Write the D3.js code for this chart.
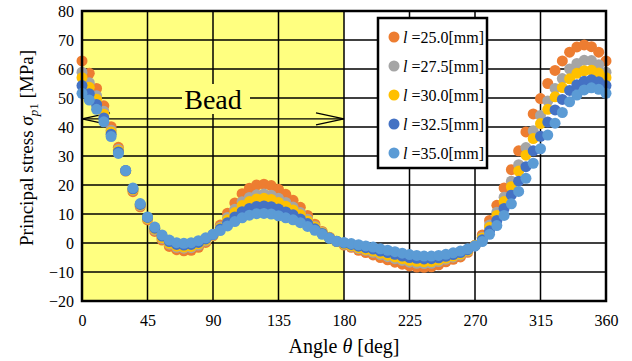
<!DOCTYPE html>
<html>
<head>
<meta charset="utf-8">
<script src="https://cdn.jsdelivr.net/npm/d3@7"></script>
<style>
  body { margin: 0; background: #fff; }
</style>
</head>
<body>
<svg id="chart" width="632" height="361"></svg>
<script>
// data, one value every 5 deg from 0 to 360
const angles = d3.range(0, 361, 5)
const labels = ['25.0', '27.5', '30.0', '32.5', '35.0']
const colors = ['#ED7D31', '#A5A5A5', '#FFC000', '#4472C4', '#5B9BD5']
const xTicks = [0, 45, 90, 135, 180, 225, 270, 315, 360]
const yTicks = [-20, -10, 0, 10, 20, 30, 40, 50, 60, 70, 80]

const l250 = [62.8, 58.5, 53.3, 47.3, 40.1, 33.0, 24.8, 17.7, 12.5, 8.0, 4.0, 1.0, -1.2, -2.3, -2.7, -2.5, -1.5, 0.2, 2.5,
  6.2, 10.3, 13.8, 17.0, 18.9, 20.0, 20.3, 19.8, 18.5, 16.8, 14.7, 12.3, 9.5, 6.5, 4.0, 2.0, 0.5, -0.7,
  -1.5, -2.5, -3.3, -4.1, -5.0, -5.8, -6.6, -7.3, -7.9, -8.3, -8.4, -8.2, -7.5, -6.5, -5.6, -4.8, -3.2, -0.8,
  2.8, 7.8, 13.0, 19.0, 25.3, 31.8, 38.3, 44.5, 49.8, 55.0, 59.5, 62.8, 65.8, 67.6, 68.3, 67.7, 65.8, 62.8]
const l275 = [58.9, 55.3, 50.8, 45.4, 38.9, 32.3, 24.9, 18.2, 12.9, 8.4, 4.5, 1.6, -0.4, -1.5, -1.8, -1.6, -0.7, 0.7, 2.7,
  5.5, 8.8, 11.6, 14.2, 15.7, 16.6, 16.9, 16.5, 15.4, 14.0, 12.4, 10.5, 8.2, 5.8, 3.7, 1.9, 0.5, -0.4,
  -1.1, -1.9, -2.5, -3.2, -4.0, -4.7, -5.4, -6.0, -6.6, -7.0, -7.1, -7.0, -6.4, -5.6, -4.9, -4.1, -2.8, -0.9,
  2.0, 6.2, 10.6, 15.8, 21.3, 27.0, 32.9, 38.7, 44.0, 49.0, 53.3, 56.7, 60.0, 61.9, 63.0, 62.9, 61.5, 58.9]
const l300 = [57.0, 53.7, 49.6, 44.4, 38.3, 31.9, 24.9, 18.4, 13.1, 8.5, 4.8, 1.9, -0.1, -1.1, -1.4, -1.2, -0.3, 1.0, 2.8,
  5.2, 8.0, 10.5, 12.9, 14.3, 15.2, 15.4, 15.0, 14.0, 12.7, 11.4, 9.7, 7.6, 5.5, 3.5, 1.8, 0.5, -0.3,
  -0.9, -1.6, -2.2, -2.8, -3.5, -4.2, -4.8, -5.4, -6.0, -6.3, -6.5, -6.4, -5.9, -5.2, -4.5, -3.8, -2.6, -0.9,
  1.7, 5.4, 9.5, 14.3, 19.4, 24.8, 30.3, 36.0, 41.2, 46.1, 50.4, 53.6, 56.6, 58.5, 59.4, 59.6, 58.6, 57.0]
const l325 = [54.3, 51.5, 47.8, 43.1, 37.5, 31.4, 25.0, 18.7, 13.3, 8.8, 5.1, 2.4, 0.5, -0.5, -0.7, -0.5, 0.2, 1.4, 2.9,
  4.8, 7.0, 9.0, 10.8, 11.9, 12.6, 12.8, 12.5, 11.7, 10.7, 9.7, 8.3, 6.7, 4.9, 3.3, 1.7, 0.6, 0.0,
  -0.5, -1.1, -1.6, -2.1, -2.8, -3.3, -3.9, -4.5, -5.0, -5.3, -5.5, -5.4, -5.1, -4.6, -4.0, -3.3, -2.3, -1.0,
  1.1, 4.2, 7.8, 11.9, 16.5, 21.3, 26.3, 31.8, 36.8, 41.7, 45.9, 49.5, 52.6, 54.6, 55.8, 56.3, 55.6, 54.3]
const l350 = [51.6, 49.3, 46.1, 41.8, 36.7, 30.9, 25.0, 19.0, 13.6, 9.0, 5.5, 2.8, 1.0, 0.1, -0.1, 0.1, 0.8, 1.8, 3.0,
  4.3, 5.9, 7.4, 8.7, 9.6, 10.1, 10.2, 10.0, 9.4, 8.7, 8.0, 7.0, 5.7, 4.4, 3.0, 1.6, 0.6, 0.2,
  -0.2, -0.6, -1.0, -1.4, -2.0, -2.5, -3.0, -3.5, -4.0, -4.3, -4.5, -4.5, -4.3, -3.9, -3.4, -2.8, -2.0, -1.0,
  0.5, 3.0, 6.0, 9.5, 13.5, 17.8, 22.3, 27.5, 32.5, 37.2, 41.3, 45.0, 48.7, 51.0, 52.8, 53.5, 53.0, 51.6]
const series = [l250, l275, l300, l325, l350]

// layout
const FONT = "'Liberation Serif', 'Times New Roman', serif"
const M = { left: 82, right: 606, top: 11, bottom: 301 }
const svg = d3.select('#chart').style('font-family', FONT)

const x = d3.scaleLinear().domain([0, 360]).range([M.left, M.right])
const y = d3.scaleLinear().domain([-20, 80]).range([M.bottom, M.top])

// bead region
svg.append('rect')
  .attr('x', x(0)).attr('y', y(80))
  .attr('width', x(180) - x(0)).attr('height', y(-20) - y(80))
  .attr('fill', '#FFFF80')

// grid
svg.append('g').selectAll('line').data(yTicks.slice(1, -1)).enter().append('line')
  .attr('x1', M.left).attr('x2', M.right)
  .attr('y1', d => y(d)).attr('y2', d => y(d))
  .attr('stroke', '#000').attr('stroke-width', 1.5)
svg.append('g').selectAll('line').data(xTicks.slice(1, -1)).enter().append('line')
  .attr('y1', M.top).attr('y2', M.bottom)
  .attr('x1', d => x(d)).attr('x2', d => x(d))
  .attr('stroke', '#000').attr('stroke-width', 1.5)

// Bead label + arrow
svg.append('rect').attr('x', 182).attr('y', 84).attr('width', 68).attr('height', 30).attr('fill', '#FFFF80')
svg.append('text').attr('x', x(90)).attr('y', 109).attr('text-anchor', 'middle')
  .style('font-family', FONT).attr('font-size', 28).text('Bead')
const ay = y(42.8)
const arrow = svg.append('g').attr('stroke', '#000').attr('stroke-width', 1.2).attr('fill', 'none')
arrow.append('line').attr('x1', x(0)).attr('x2', x(180)).attr('y1', ay).attr('y2', ay)
arrow.append('path').attr('d', `M${x(0) + 28},${ay - 6}L${x(0)},${ay}L${x(0) + 28},${ay + 6}`)
arrow.append('path').attr('d', `M${x(180) - 28},${ay - 6}L${x(180)},${ay}L${x(180) - 28},${ay + 6}`)

// points
series.forEach((vals, i) => {
  svg.append('g').selectAll('circle').data(vals).enter().append('circle')
    .attr('cx', (d, j) => x(angles[j]))
    .attr('cy', d => y(d))
    .attr('r', 5.5)
    .attr('fill', colors[i])
})

// frame
svg.append('rect')
  .attr('x', M.left).attr('y', M.top)
  .attr('width', M.right - M.left).attr('height', M.bottom - M.top)
  .attr('fill', 'none').attr('stroke', '#000').attr('stroke-width', 2.5)

// axes (labels only)
const xAxis = svg.append('g').attr('transform', `translate(0,${M.bottom})`)
  .call(d3.axisBottom(x).tickValues(xTicks).tickSize(0).tickPadding(14))
const yAxis = svg.append('g').attr('transform', `translate(${M.left},0)`)
  .call(d3.axisLeft(y).tickValues(yTicks).tickSize(0).tickPadding(8))
;[xAxis, yAxis].forEach(a => {
  a.attr('font-family', null)
  a.select('.domain').remove()
  a.selectAll('text').style('font-family', FONT).attr('font-size', 16).attr('fill', '#000')
})

// axis titles
svg.append('text').attr('x', x(180)).attr('y', 353).attr('text-anchor', 'middle').attr('font-size', 20)
  .style('font-family', FONT)
  .html('Angle <tspan font-style="italic">θ</tspan> [deg]')
svg.append('text').attr('transform', `translate(33,148) rotate(-90)`).attr('text-anchor', 'middle')
  .attr('font-size', 19).style('font-family', FONT)
  .html('Principal stress  <tspan font-style="italic">σ</tspan><tspan font-size="13" dy="5"><tspan font-style="italic">p</tspan>1</tspan><tspan dy="-5">  [MPa]</tspan>')

// legend
const lg = svg.append('g')
lg.append('rect').attr('x', 378).attr('y', 18).attr('width', 109).attr('height', 150)
  .attr('fill', '#fff').attr('stroke', '#000').attr('stroke-width', 2.5)
labels.forEach((lab, i) => {
  const cy = 37 + i * 29
  lg.append('circle').attr('cx', 394).attr('cy', cy).attr('r', 5.5).attr('fill', colors[i])
  lg.append('text').attr('x', 403).attr('y', cy + 6).attr('font-size', 16).style('font-family', FONT)
    .html(`<tspan font-style="italic">l</tspan> =${lab}[mm]`)
})
</script>
</body>
</html>
